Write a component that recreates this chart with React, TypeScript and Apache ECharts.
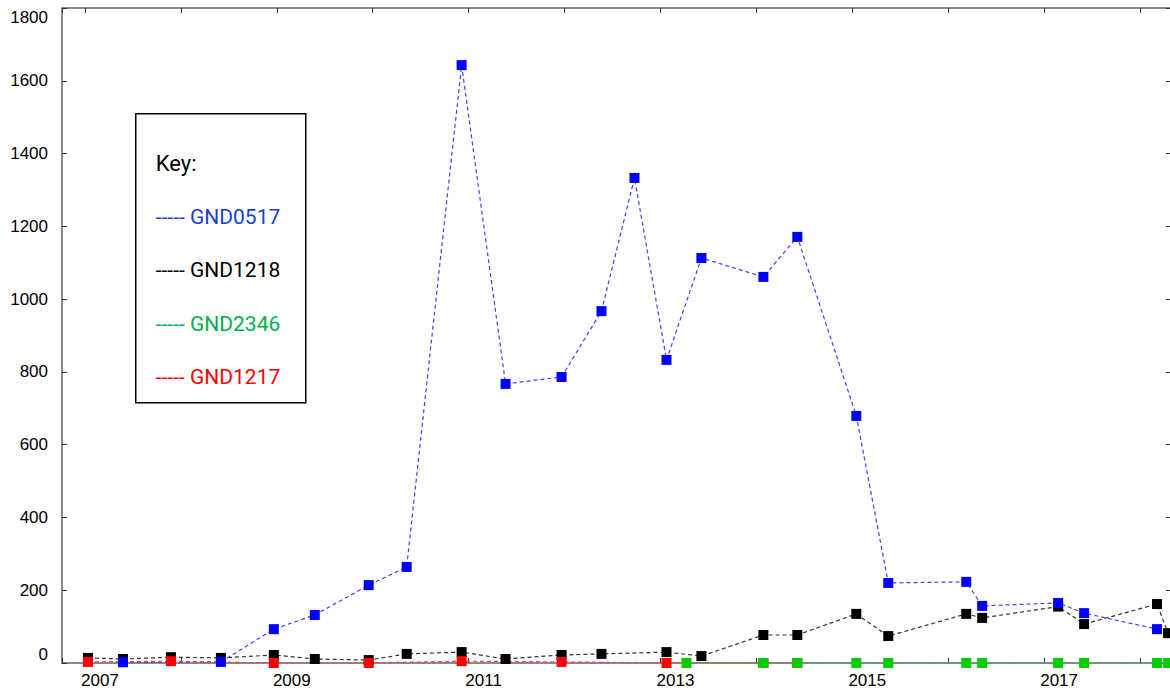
import React, { useEffect, useRef } from 'react';
import * as echarts from 'echarts';

// ---- data (x = decimal year) ----
const labelYears = [2007, 2009, 2011, 2013, 2015, 2017];
const yMax = 1800;
const yStep = 200;

const gnd0517Dates = [2007.396, 2008.417, 2008.969, 2009.396, 2009.958, 2010.354, 2010.927, 2011.385, 2011.969, 2012.385, 2012.729, 2013.063, 2013.427, 2014.073, 2014.427, 2015.042, 2015.375, 2016.188, 2016.354, 2017.146, 2017.417, 2018.177];
const gnd0517Values = [2, 3, 93, 132, 214, 264, 1643, 767, 786, 967, 1333, 833, 1113, 1061, 1171, 679, 220, 223, 157, 165, 137, 93];

const gnd1218Dates = [2007.031, 2007.396, 2007.896, 2008.417, 2008.969, 2009.396, 2009.958, 2010.354, 2010.927, 2011.385, 2011.969, 2012.385, 2013.063, 2013.427, 2014.073, 2014.427, 2015.042, 2015.375, 2016.188, 2016.354, 2017.146, 2017.417, 2018.177, 2018.292];
const gnd1218Values = [14, 11, 16, 14, 22, 11, 8, 25, 30, 11, 22, 25, 30, 19, 77, 77, 135, 74, 135, 124, 155, 107, 162, 82];

const gnd2346Dates = [2013.271, 2014.073, 2014.427, 2015.042, 2015.375, 2016.188, 2016.354, 2017.146, 2017.417, 2018.177, 2018.292];
const gnd2346Values = [0, 0, 0, 0, 0, 0, 0, 0, 0, 0, 0];

const gnd1217Dates = [2007.031, 2007.896, 2008.969, 2009.958, 2010.927, 2011.969, 2013.063, 2014.073, 2014.427];
const gnd1217Values = [3, 5, 0, 0, 5, 3, 0, 0, 0];

const legendNames = ['GND0517', 'GND1218', 'GND2346', 'GND1217'];
const legendColors = ['#1a3fd6', '#000000', '#00b050', '#ff0000'];

const zip = (xs: number[], ys: number[]) => xs.map((x, i) => [x, ys[i]]);

const X_MIN = 2006.7604;
const X_MAX = 2018.3229;

export default function App() {
  const ref = useRef<HTMLDivElement>(null);
  useEffect(() => {
    if (!ref.current) return;
    const chart = echarts.init(ref.current, undefined, { renderer: 'svg' });
    const axisFont = { fontFamily: 'Liberation Sans, Arial, sans-serif', fontSize: 17, color: '#000' };
    const lineCol = '#8a8a8a';
    const xCommon = {
      type: 'value' as const,
      min: X_MIN,
      max: X_MAX,
      splitNumber: 12,
      minInterval: 1,
      maxInterval: 1,
      splitLine: { show: false },
      axisLine: { show: true, onZero: false, lineStyle: { color: lineCol, width: 2 } },
      axisTick: { show: true, inside: true, length: 5, lineStyle: { color: '#333', width: 1 } },
    };
    const yCommon = {
      type: 'value' as const,
      min: 0,
      max: yMax,
      interval: yStep,
      splitLine: { show: false },
      axisLine: { show: true, lineStyle: { color: lineCol, width: 2 } },
      axisTick: { show: true, inside: true, length: 5, lineStyle: { color: '#333', width: 1 } },
    };
    const mk = (name: string, xs: number[], ys: number[], color: string, lineColor: string) => ({
      name,
      type: 'line',
      data: zip(xs, ys),
      symbol: 'rect',
      symbolSize: 10,
      showSymbol: true,
      itemStyle: { color },
      lineStyle: { color: lineColor, width: 1.2, type: [4, 3] },
      emphasis: { disabled: true },
    });

    const legendTop = 113;
    chart.setOption({
      animation: false,
      backgroundColor: '#fff',
      grid: { left: 62, right: 2, top: 8, bottom: 28, containLabel: false },
      xAxis: [
        {
          ...xCommon,
          position: 'bottom',
          axisLabel: {
            ...axisFont,
            margin: 9,
            padding: [0, 0, 0, 30],
            formatter: (v: number) => {
              const r = Math.round(v);
              return Math.abs(v - r) < 1e-6 && labelYears.includes(r) ? String(r) : '';
            },
          },
        },
        { ...xCommon, position: 'top', axisLabel: { show: false } },
      ],
      yAxis: [
        {
          ...yCommon,
          position: 'left',
          axisLabel: {
            ...axisFont,
            margin: 14,
            formatter: (v: number) => (v === 0 ? '{lo|0}' : v === yMax ? '{hi|' + v + '}' : String(v)),
            rich: {
              lo: { ...axisFont, padding: [0, 0, 18, 0] },
              hi: { ...axisFont, padding: [18, 0, 0, 0] },
            },
          },
        },
        { ...yCommon, position: 'right', axisLabel: { show: false } },
      ],
      series: [
        mk('GND1218', gnd1218Dates, gnd1218Values, '#000000', '#333333'),
        mk('GND0517', gnd0517Dates, gnd0517Values, '#0000ff', '#4040ff'),
        mk('GND1217', gnd1217Dates, gnd1217Values, '#ff0000', '#ff4040'),
        mk('GND2346', gnd2346Dates, gnd2346Values, '#00cc00', '#20c040'),
      ],
      graphic: [
        {
          type: 'group',
          left: 135,
          top: legendTop,
          children: [
            {
              type: 'rect',
              shape: { x: 0, y: 0, width: 170, height: 289 },
              style: { fill: '#fff', stroke: '#000', lineWidth: 1.5 },
            },
            {
              type: 'text',
              x: 20,
              y: 50,
              style: { text: 'Key:', font: '22px Roboto, sans-serif', fill: '#000', verticalAlign: 'middle' },
            },
            ...legendNames.map((n, i) => ({
              type: 'text',
              x: 20,
              y: 103 + i * 53.5,
              style: {
                text: '----- ' + n,
                font: '21px Roboto, sans-serif',
                fill: legendColors[i],
                verticalAlign: 'middle',
              },
            })),
          ],
        },
      ],
    });
    return () => chart.dispose();
  }, []);
  return (
    <div style={{ position: 'fixed', left: 0, top: 0, width: 1170, height: 691, overflow: 'hidden' }}>
      <div ref={ref} style={{ width: 1174, height: 691 }} />
    </div>
  );
}
